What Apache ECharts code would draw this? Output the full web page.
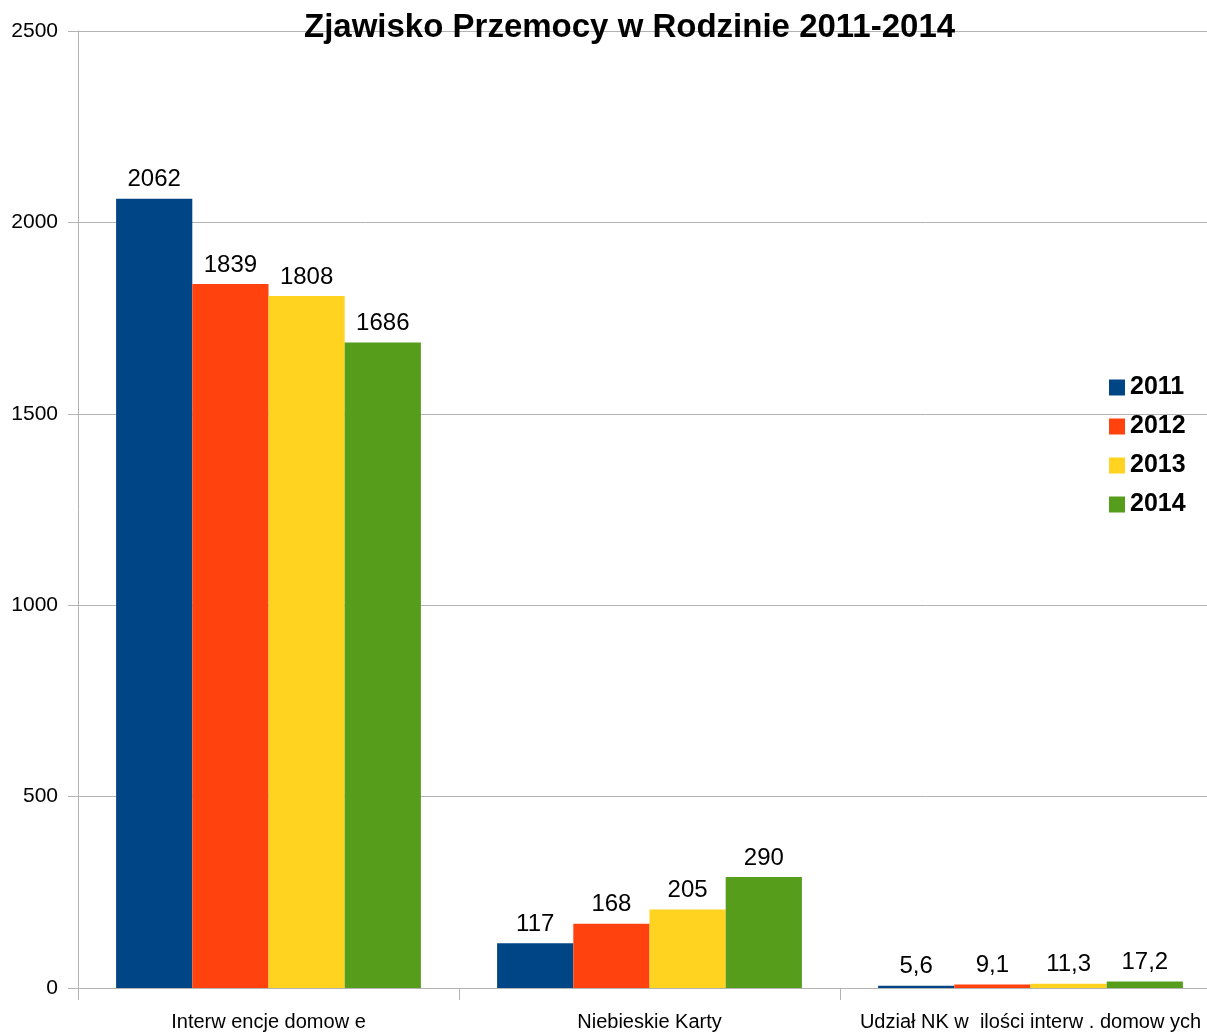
<!DOCTYPE html>
<html>
<head>
<meta charset="utf-8">
<script src="https://cdn.jsdelivr.net/npm/echarts@6/dist/echarts.min.js"></script>
<style>
  html, body { margin: 0; padding: 0; background: #ffffff; }
  #chart { width: 1207px; height: 1032px; }
</style>
</head>
<body>
<div id="chart"></div>
<script>
  // dane z wykresu
  var categories = ['Interw encje domow e', 'Niebieskie Karty', 'Udział NK w  ilości interw . domow ych'];
  var years = ['2011', '2012', '2013', '2014'];
  var data2011 = [2062, 117, 5.6];
  var data2012 = [1839, 168, 9.1];
  var data2013 = [1808, 205, 11.3];
  var data2014 = [1686, 290, 17.2];
  var yTicks = [0, 500, 1000, 1500, 2000, 2500];
  var colors = ['#004586', '#ff420e', '#ffd320', '#579d1c'];

  var font = '"Liberation Sans", Arial, sans-serif';
  var chart = echarts.init(document.getElementById('chart'));

  function makeSeries(name, values) {
    return {
      name: name,
      type: 'bar',
      data: values,
      barGap: '0%',
      barCategoryGap: '20%',
      label: {
        show: true,
        position: 'top',
        distance: 7,
        color: '#000',
        fontFamily: font,
        fontSize: 24,
        formatter: function (p) { return String(p.value).replace('.', ','); }
      }
    };
  }

  chart.setOption({
    animation: false,
    color: colors,
    title: {
      text: 'Zjawisko Przemocy w Rodzinie 2011-2014',
      left: 299,
      top: 6,
      textStyle: { fontFamily: font, fontSize: 33, fontWeight: 'bold', color: '#000' }
    },
    legend: {
      orient: 'vertical',
      left: 1104,
      top: 370,
      itemWidth: 16,
      itemHeight: 16,
      itemGap: 14,
      icon: 'rect',
      data: years,
      textStyle: { fontFamily: font, fontSize: 25, fontWeight: 'bold', color: '#000' }
    },
    grid: { left: 78, top: 31, right: -14, height: 957, outerBoundsMode: 'none', containLabel: false },
    xAxis: {
      type: 'category',
      data: categories,
      axisLine: { lineStyle: { color: '#b3b3b3' } },
      axisTick: { show: true, length: 12, lineStyle: { color: '#b3b3b3' } },
      axisLabel: { fontFamily: font, fontSize: 20, color: '#000', margin: 24, interval: 0 }
    },
    yAxis: {
      type: 'value',
      min: yTicks[0],
      max: yTicks[yTicks.length - 1],
      interval: 500,
      axisLine: { show: true, lineStyle: { color: '#b3b3b3' } },
      axisTick: { show: true, length: 10, lineStyle: { color: '#b3b3b3' } },
      axisLabel: { fontFamily: font, fontSize: 21, color: '#000', margin: 20, formatter: function (v) { return String(v); } },
      splitLine: { lineStyle: { color: '#b3b3b3' } }
    },
    series: [
      makeSeries(years[0], data2011),
      makeSeries(years[1], data2012),
      makeSeries(years[2], data2013),
      makeSeries(years[3], data2014)
    ]
  });
</script>
</body>
</html>
